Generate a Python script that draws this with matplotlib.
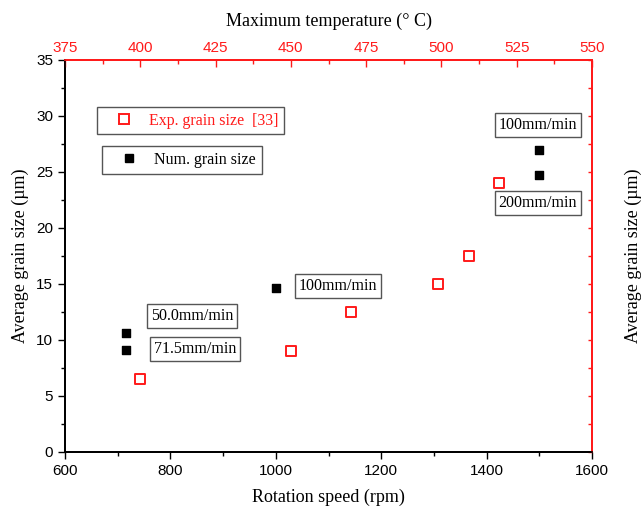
import matplotlib.pyplot as plt
from matplotlib.lines import Line2D
from matplotlib.ticker import MultipleLocator

# numerical grain size vs rotation speed
num_rpm = [715, 715, 1000, 1500, 1500]
num_size = [10.6, 9.1, 14.6, 27.0, 24.7]

# experimental grain size vs maximum temperature
exp_temp = [400, 450, 470, 499, 509, 519]
exp_size = [6.5, 9.0, 12.5, 15.0, 17.5, 24.0]

serif = ['Liberation Serif', 'DejaVu Serif']
sans = ['Liberation Sans', 'DejaVu Sans']
red = '#ff1a1a'

fig = plt.figure(figsize=(6.41, 5.11), dpi=100)
ax = fig.add_axes([0.1014, 0.1155, 0.8222, 0.7671])
axr = ax.twinx()
ax2 = axr.twiny()

ax.scatter(num_rpm, num_size, marker='s', s=34, color='black', zorder=3)
ax2.scatter(exp_temp, exp_size, marker='s', s=42, facecolor='white',
            edgecolor=red, linewidth=1.4, zorder=3)

ax.set_xlim(600, 1600)
ax.set_ylim(0, 35)
ax2.set_xlim(375, 550)
ax2.set_ylim(0, 35)
axr.set_ylim(0, 35)

ax.xaxis.set_major_locator(MultipleLocator(200))
ax.xaxis.set_minor_locator(MultipleLocator(100))
ax.yaxis.set_major_locator(MultipleLocator(5))
ax.yaxis.set_minor_locator(MultipleLocator(2.5))
ax.tick_params(which='both', direction='out', labelsize=11, width=1)
ax.tick_params(which='major', length=5)
ax.tick_params(which='minor', length=3)
for lab in ax.get_xticklabels() + ax.get_yticklabels():
    lab.set_family(sans)

axr.yaxis.set_major_locator(MultipleLocator(5))
axr.yaxis.set_minor_locator(MultipleLocator(2.5))
axr.tick_params(which='both', direction='in', colors=red, labelsize=11, width=1)
axr.tick_params(which='major', length=5)
axr.tick_params(which='minor', length=3)
for lab in axr.get_yticklabels():
    lab.set_family(sans)
axr.set_ylabel('Average grain size (µm)', family=serif, fontsize=13, color='black', labelpad=20)

ax2.xaxis.set_major_locator(MultipleLocator(25))
ax2.xaxis.set_minor_locator(MultipleLocator(12.5))
ax2.tick_params(which='both', direction='in', colors=red, labelsize=11, width=1)
ax2.tick_params(which='major', length=5)
ax2.tick_params(which='minor', length=3)
ax2.set_yticks([])
for lab in ax2.get_xticklabels():
    lab.set_family(sans)
ax2.set_xlabel('Maximum temperature (° C)', family=serif, fontsize=13, labelpad=11)

for a in (ax, axr, ax2):
    a.spines['top'].set_color(red)
    a.spines['right'].set_color(red)
    a.spines['left'].set_color('black')
    a.spines['bottom'].set_color('black')
    for s in a.spines.values():
        s.set_linewidth(1.2)

ax.set_xlabel('Rotation speed (rpm)', family=serif, fontsize=13, labelpad=8)
ax.set_ylabel('Average grain size (µm)', family=serif, fontsize=13, labelpad=5)

box = dict(boxstyle='square,pad=0.25', facecolor='white', edgecolor='#555555', linewidth=1)
notes = [(841, 12.1, '50.0mm/min'), (847, 9.2, '71.5mm/min'),
         (1118, 14.8, '100mm/min'), (1497, 29.2, '100mm/min'),
         (1497, 22.2, '200mm/min')]
for x, y, t in notes:
    ax.text(x, y, t, ha='center', va='center', family=serif, fontsize=11.5,
            bbox=box, zorder=4)

h_exp = Line2D([], [], marker='s', ls='none', markersize=7, markerfacecolor='white',
               markeredgecolor=red, markeredgewidth=1.4)
h_num = Line2D([], [], marker='s', ls='none', markersize=6, color='black')
leg_kw = dict(prop={'family': serif, 'size': 11.5}, fancybox=False, framealpha=1,
              edgecolor='#555555', borderpad=0.35, handletextpad=0.3, handlelength=2.6)
leg1 = ax2.legend([h_exp], ['Exp. grain size  [33]'], loc='center',
                  bbox_to_anchor=(0.2385, 0.845), bbox_transform=ax.transAxes, **leg_kw)
leg1.get_texts()[0].set_color(red)
leg1.get_frame().set_linewidth(1)
ax2.add_artist(leg1)
leg2 = ax2.legend([h_num], ['Num. grain size'], loc='center',
                  bbox_to_anchor=(0.222, 0.745), bbox_transform=ax.transAxes, **leg_kw)
leg2.get_frame().set_linewidth(1)

fig.savefig('out.png', dpi=100)
